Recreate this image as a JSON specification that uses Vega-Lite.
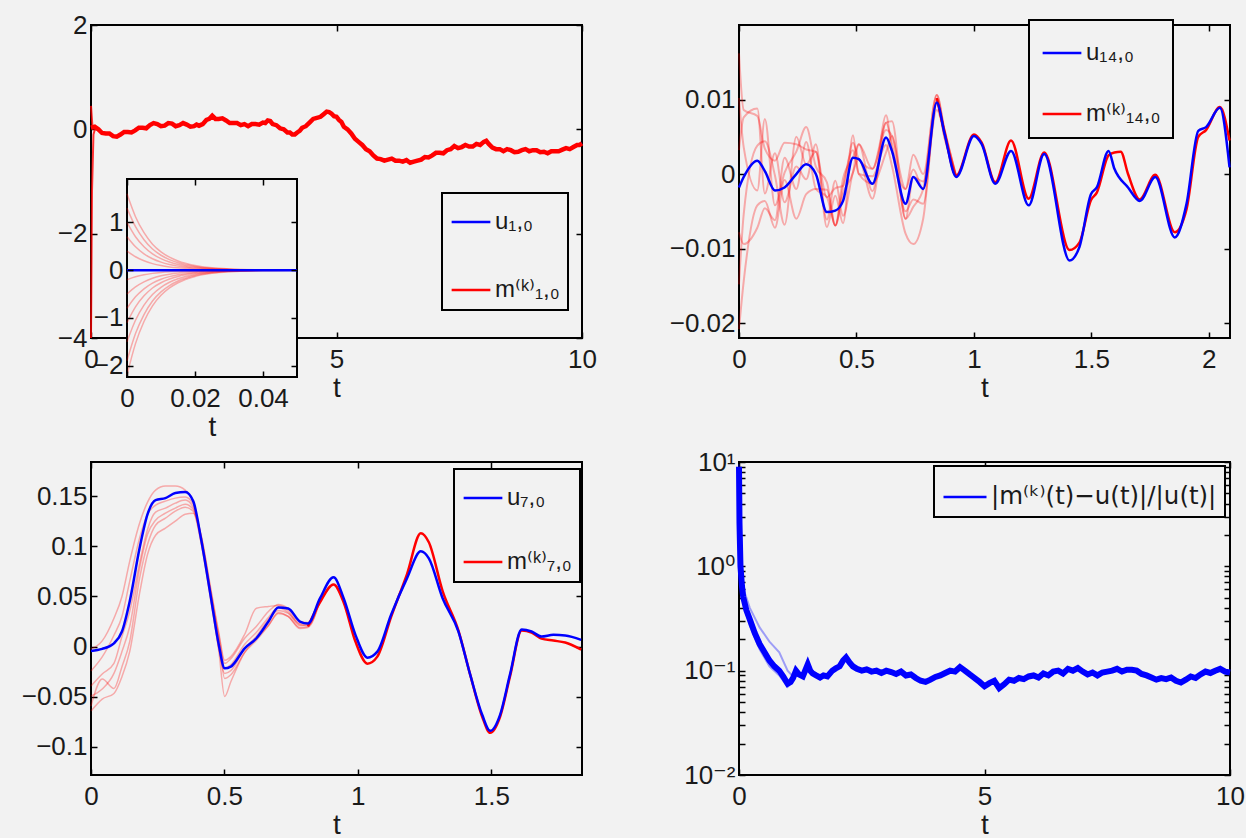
{
  "$schema": "https://vega.github.io/schema/vega-lite/v6.json",
  "background": "#f2f2f2",
  "padding": {"left": 20, "top": 11, "right": 0, "bottom": 0},
  "bounds": "flush",
  "columns": 2,
  "spacing": {"row": 124, "column": 157},
  "resolve": {"scale": {"color": "independent"}, "legend": {"color": "independent"}},
  "datasets": {
    "tl_m": [
      {"t":0,"v":0.03},{"t":0.075,"v":0.05},{"t":0.15,"v":0.0},{"t":0.225,"v":-0.07},{"t":0.3,"v":-0.08},{"t":0.375,"v":-0.08},{"t":0.45,"v":-0.13},{"t":0.525,"v":-0.14},{"t":0.6,"v":-0.1},{"t":0.675,"v":-0.05},{"t":0.75,"v":-0.05},{"t":0.825,"v":-0.06},{"t":0.9,"v":-0.02},{"t":0.975,"v":0.03},{"t":1.05,"v":0.03},{"t":1.125,"v":0.02},{"t":1.2,"v":0.08},{"t":1.275,"v":0.12},{"t":1.35,"v":0.1},{"t":1.425,"v":0.06},{"t":1.5,"v":0.07},{"t":1.575,"v":0.12},{"t":1.65,"v":0.11},{"t":1.725,"v":0.06},{"t":1.8,"v":0.08},{"t":1.875,"v":0.12},{"t":1.95,"v":0.09},{"t":2.025,"v":0.05},{"t":2.1,"v":0.06},{"t":2.15,"v":0.09},{"t":2.2,"v":0.07},{"t":2.275,"v":0.1},{"t":2.35,"v":0.18},{"t":2.41,"v":0.2},{"t":2.47,"v":0.26},{"t":2.535,"v":0.2},{"t":2.6,"v":0.2},{"t":2.675,"v":0.21},{"t":2.75,"v":0.17},{"t":2.825,"v":0.12},{"t":2.9,"v":0.12},{"t":2.975,"v":0.12},{"t":3.05,"v":0.08},{"t":3.125,"v":0.1},{"t":3.2,"v":0.06},{"t":3.275,"v":0.1},{"t":3.35,"v":0.1},{"t":3.425,"v":0.09},{"t":3.5,"v":0.13},{"t":3.55,"v":0.12},{"t":3.6,"v":0.17},{"t":3.65,"v":0.16},{"t":3.7,"v":0.1},{"t":3.775,"v":0.08},{"t":3.85,"v":0.02},{"t":3.925,"v":0.0},{"t":4.0,"v":-0.06},{"t":4.05,"v":-0.06},{"t":4.1,"v":-0.1},{"t":4.15,"v":-0.1},{"t":4.2,"v":-0.06},{"t":4.25,"v":-0.03},{"t":4.3,"v":0.03},{"t":4.375,"v":0.06},{"t":4.45,"v":0.13},{"t":4.525,"v":0.2},{"t":4.6,"v":0.22},{"t":4.675,"v":0.24},{"t":4.75,"v":0.3},{"t":4.8,"v":0.34},{"t":4.85,"v":0.33},{"t":4.9,"v":0.3},{"t":4.95,"v":0.25},{"t":5.0,"v":0.24},{"t":5.05,"v":0.18},{"t":5.1,"v":0.14},{"t":5.15,"v":0.05},{"t":5.225,"v":0.0},{"t":5.3,"v":-0.08},{"t":5.375,"v":-0.18},{"t":5.45,"v":-0.24},{"t":5.525,"v":-0.3},{"t":5.6,"v":-0.38},{"t":5.675,"v":-0.42},{"t":5.75,"v":-0.5},{"t":5.825,"v":-0.56},{"t":5.9,"v":-0.57},{"t":5.975,"v":-0.6},{"t":6.05,"v":-0.58},{"t":6.125,"v":-0.56},{"t":6.2,"v":-0.6},{"t":6.275,"v":-0.6},{"t":6.35,"v":-0.62},{"t":6.425,"v":-0.59},{"t":6.5,"v":-0.64},{"t":6.575,"v":-0.62},{"t":6.65,"v":-0.6},{"t":6.725,"v":-0.58},{"t":6.8,"v":-0.53},{"t":6.875,"v":-0.54},{"t":6.95,"v":-0.5},{"t":7.025,"v":-0.45},{"t":7.1,"v":-0.45},{"t":7.175,"v":-0.46},{"t":7.25,"v":-0.4},{"t":7.325,"v":-0.38},{"t":7.4,"v":-0.32},{"t":7.475,"v":-0.36},{"t":7.55,"v":-0.34},{"t":7.625,"v":-0.3},{"t":7.7,"v":-0.33},{"t":7.775,"v":-0.33},{"t":7.85,"v":-0.28},{"t":7.925,"v":-0.3},{"t":8.0,"v":-0.24},{"t":8.05,"v":-0.22},{"t":8.1,"v":-0.28},{"t":8.175,"v":-0.35},{"t":8.25,"v":-0.38},{"t":8.325,"v":-0.38},{"t":8.4,"v":-0.42},{"t":8.475,"v":-0.38},{"t":8.55,"v":-0.4},{"t":8.625,"v":-0.44},{"t":8.7,"v":-0.43},{"t":8.775,"v":-0.4},{"t":8.85,"v":-0.38},{"t":8.925,"v":-0.42},{"t":9.0,"v":-0.4},{"t":9.075,"v":-0.4},{"t":9.15,"v":-0.44},{"t":9.225,"v":-0.43},{"t":9.3,"v":-0.46},{"t":9.375,"v":-0.42},{"t":9.45,"v":-0.42},{"t":9.525,"v":-0.42},{"t":9.6,"v":-0.39},{"t":9.675,"v":-0.36},{"t":9.75,"v":-0.38},{"t":9.825,"v":-0.34},{"t":9.9,"v":-0.3},{"t":9.95,"v":-0.3},{"t":10.0,"v":-0.27}
    ],
    "tl_tr": [
      {"t":0,"v":0.45,"k":1},{"t":0.03,"v":0.05,"k":1},{"t":0.06,"v":0.02,"k":1},
      {"t":0,"v":-4,"k":2},{"t":0.02,"v":-1.2,"k":2},{"t":0.05,"v":-0.1,"k":2},{"t":0.08,"v":0.0,"k":2}
    ],
    "inset_box": [{"t":0,"t2":0.05,"v":-2.24,"v2":1.91}],
    "inset_u": [{"t":0,"v":0},{"t":0.05,"v":0}],
    "inset_m": [
      {"k":1,"t":0,"v":1.6},{"k":1,"t":0.0025,"v":1.12},{"k":1,"t":0.005,"v":0.784},{"k":1,"t":0.0075,"v":0.544},{"k":1,"t":0.01,"v":0.384},{"k":1,"t":0.0125,"v":0.272},{"k":1,"t":0.015,"v":0.192},{"k":1,"t":0.02,"v":0.096},{"k":1,"t":0.025,"v":0.048},{"k":1,"t":0.03,"v":0.024},{"k":1,"t":0.04,"v":0.006},{"k":1,"t":0.05,"v":0},
      {"k":2,"t":0,"v":1.3},{"k":2,"t":0.0025,"v":0.91},{"k":2,"t":0.005,"v":0.637},{"k":2,"t":0.0075,"v":0.442},{"k":2,"t":0.01,"v":0.312},{"k":2,"t":0.0125,"v":0.221},{"k":2,"t":0.015,"v":0.156},{"k":2,"t":0.02,"v":0.078},{"k":2,"t":0.025,"v":0.039},{"k":2,"t":0.03,"v":0.02},{"k":2,"t":0.04,"v":0.005},{"k":2,"t":0.05,"v":0},
      {"k":3,"t":0,"v":1.0},{"k":3,"t":0.0025,"v":0.7},{"k":3,"t":0.005,"v":0.49},{"k":3,"t":0.0075,"v":0.34},{"k":3,"t":0.01,"v":0.24},{"k":3,"t":0.0125,"v":0.17},{"k":3,"t":0.015,"v":0.12},{"k":3,"t":0.02,"v":0.06},{"k":3,"t":0.025,"v":0.03},{"k":3,"t":0.03,"v":0.015},{"k":3,"t":0.04,"v":0.004},{"k":3,"t":0.05,"v":0},
      {"k":4,"t":0,"v":0.7},{"k":4,"t":0.0025,"v":0.49},{"k":4,"t":0.005,"v":0.343},{"k":4,"t":0.0075,"v":0.238},{"k":4,"t":0.01,"v":0.168},{"k":4,"t":0.0125,"v":0.119},{"k":4,"t":0.015,"v":0.084},{"k":4,"t":0.02,"v":0.042},{"k":4,"t":0.025,"v":0.021},{"k":4,"t":0.03,"v":0.011},{"k":4,"t":0.04,"v":0.003},{"k":4,"t":0.05,"v":0},
      {"k":5,"t":0,"v":0.4},{"k":5,"t":0.0025,"v":0.28},{"k":5,"t":0.005,"v":0.196},{"k":5,"t":0.0075,"v":0.136},{"k":5,"t":0.01,"v":0.096},{"k":5,"t":0.0125,"v":0.068},{"k":5,"t":0.015,"v":0.048},{"k":5,"t":0.02,"v":0.024},{"k":5,"t":0.025,"v":0.012},{"k":5,"t":0.03,"v":0.006},{"k":5,"t":0.04,"v":0.002},{"k":5,"t":0.05,"v":0},
      {"k":6,"t":0,"v":-0.2},{"k":6,"t":0.0025,"v":-0.14},{"k":6,"t":0.005,"v":-0.098},{"k":6,"t":0.0075,"v":-0.068},{"k":6,"t":0.01,"v":-0.048},{"k":6,"t":0.0125,"v":-0.034},{"k":6,"t":0.015,"v":-0.024},{"k":6,"t":0.02,"v":-0.012},{"k":6,"t":0.025,"v":-0.006},{"k":6,"t":0.03,"v":-0.003},{"k":6,"t":0.04,"v":-0.001},{"k":6,"t":0.05,"v":0},
      {"k":7,"t":0,"v":-0.5},{"k":7,"t":0.0025,"v":-0.35},{"k":7,"t":0.005,"v":-0.245},{"k":7,"t":0.0075,"v":-0.17},{"k":7,"t":0.01,"v":-0.12},{"k":7,"t":0.0125,"v":-0.085},{"k":7,"t":0.015,"v":-0.06},{"k":7,"t":0.02,"v":-0.03},{"k":7,"t":0.025,"v":-0.015},{"k":7,"t":0.03,"v":-0.008},{"k":7,"t":0.04,"v":-0.002},{"k":7,"t":0.05,"v":0},
      {"k":8,"t":0,"v":-0.8},{"k":8,"t":0.0025,"v":-0.56},{"k":8,"t":0.005,"v":-0.392},{"k":8,"t":0.0075,"v":-0.272},{"k":8,"t":0.01,"v":-0.192},{"k":8,"t":0.0125,"v":-0.136},{"k":8,"t":0.015,"v":-0.096},{"k":8,"t":0.02,"v":-0.048},{"k":8,"t":0.025,"v":-0.024},{"k":8,"t":0.03,"v":-0.012},{"k":8,"t":0.04,"v":-0.003},{"k":8,"t":0.05,"v":0},
      {"k":9,"t":0,"v":-1.1},{"k":9,"t":0.0025,"v":-0.77},{"k":9,"t":0.005,"v":-0.539},{"k":9,"t":0.0075,"v":-0.374},{"k":9,"t":0.01,"v":-0.264},{"k":9,"t":0.0125,"v":-0.187},{"k":9,"t":0.015,"v":-0.132},{"k":9,"t":0.02,"v":-0.066},{"k":9,"t":0.025,"v":-0.033},{"k":9,"t":0.03,"v":-0.017},{"k":9,"t":0.04,"v":-0.004},{"k":9,"t":0.05,"v":0},
      {"k":10,"t":0,"v":-1.5},{"k":10,"t":0.0025,"v":-1.05},{"k":10,"t":0.005,"v":-0.735},{"k":10,"t":0.0075,"v":-0.51},{"k":10,"t":0.01,"v":-0.36},{"k":10,"t":0.0125,"v":-0.255},{"k":10,"t":0.015,"v":-0.18},{"k":10,"t":0.02,"v":-0.09},{"k":10,"t":0.025,"v":-0.045},{"k":10,"t":0.03,"v":-0.023},{"k":10,"t":0.04,"v":-0.006},{"k":10,"t":0.05,"v":0},
      {"k":11,"t":0,"v":-1.9},{"k":11,"t":0.0025,"v":-1.33},{"k":11,"t":0.005,"v":-0.931},{"k":11,"t":0.0075,"v":-0.646},{"k":11,"t":0.01,"v":-0.456},{"k":11,"t":0.0125,"v":-0.323},{"k":11,"t":0.015,"v":-0.228},{"k":11,"t":0.02,"v":-0.114},{"k":11,"t":0.025,"v":-0.057},{"k":11,"t":0.03,"v":-0.029},{"k":11,"t":0.04,"v":-0.008},{"k":11,"t":0.05,"v":0},
      {"k":12,"t":0,"v":-2.2},{"k":12,"t":0.0025,"v":-1.54},{"k":12,"t":0.005,"v":-1.078},{"k":12,"t":0.0075,"v":-0.748},{"k":12,"t":0.01,"v":-0.528},{"k":12,"t":0.0125,"v":-0.374},{"k":12,"t":0.015,"v":-0.264},{"k":12,"t":0.02,"v":-0.132},{"k":12,"t":0.025,"v":-0.066},{"k":12,"t":0.03,"v":-0.033},{"k":12,"t":0.04,"v":-0.009},{"k":12,"t":0.05,"v":0}
    ],
    "tr_u": [
      {"t":0,"v":-0.0018},{"t":0.02,"v":-0.0004},{"t":0.078,"v":0.0018},{"t":0.11,"v":0.0004},{"t":0.153,"v":-0.0022},{"t":0.194,"v":-0.0018},{"t":0.244,"v":0},{"t":0.286,"v":0.0013},{"t":0.327,"v":0},{"t":0.374,"v":-0.0051},{"t":0.41,"v":-0.0049},{"t":0.443,"v":-0.0036},{"t":0.485,"v":0.0022},{"t":0.51,"v":0.002},{"t":0.568,"v":-0.0013},{"t":0.626,"v":0.0049},{"t":0.651,"v":0.0031},{"t":0.709,"v":-0.004},{"t":0.742,"v":-0.0004},{"t":0.784,"v":-0.002},{"t":0.842,"v":0.0096},{"t":0.875,"v":0.0054},{"t":0.925,"v":-0.0004},{"t":1.0,"v":0.0051},{"t":1.033,"v":0.004},{"t":1.091,"v":-0.0013},{"t":1.158,"v":0.0031},{"t":1.233,"v":-0.0042},{"t":1.299,"v":0.0027},{"t":1.407,"v":-0.0116},{"t":1.449,"v":-0.0098},{"t":1.498,"v":-0.0027},{"t":1.523,"v":-0.0018},{"t":1.573,"v":0.0031},{"t":1.598,"v":0.0007},{"t":1.656,"v":-0.0018},{"t":1.706,"v":-0.0036},{"t":1.772,"v":-0.0004},{"t":1.855,"v":-0.0085},{"t":1.905,"v":-0.004},{"t":1.955,"v":0.0058},{"t":1.988,"v":0.0063},{"t":2.047,"v":0.0089},{"t":2.088,"v":0.0009}
    ],
    "tr_m": [
      {"t":0.842,"v":0.0102},{"t":0.875,"v":0.0056},{"t":0.925,"v":-0.0002},{"t":1.0,"v":0.0053},{"t":1.033,"v":0.0042},{"t":1.091,"v":-0.0011},{"t":1.158,"v":0.0045},{"t":1.233,"v":-0.0033},{"t":1.299,"v":0.0029},{"t":1.407,"v":-0.0102},{"t":1.449,"v":-0.0092},{"t":1.498,"v":-0.0035},{"t":1.523,"v":-0.0025},{"t":1.573,"v":0.0025},{"t":1.598,"v":0.0029},{"t":1.625,"v":0.003},{"t":1.656,"v":0.0},{"t":1.706,"v":-0.0034},{"t":1.772,"v":-0.0001},{"t":1.855,"v":-0.0078},{"t":1.905,"v":-0.0047},{"t":1.955,"v":0.005},{"t":1.988,"v":0.0059},{"t":2.047,"v":0.009},{"t":2.088,"v":0.0045}
    ],
    "tr_e": [
      {"k":1,"t":0,"v":0.0162},{"k":2,"t":0,"v":0.0102},{"k":3,"t":0,"v":0.0032},{"k":4,"t":0,"v":-0.0078},{"k":5,"t":0,"v":-0.0148},{"k":6,"t":0,"v":-0.0208},
      {"k":1,"t":0.02,"v":0.0086},{"k":2,"t":0.02,"v":0.0036},{"k":3,"t":0.02,"v":0.0076},{"k":4,"t":0.02,"v":-0.0094},{"k":5,"t":0.02,"v":-0.0054},{"k":6,"t":0.02,"v":-0.0144},
      {"k":1,"t":0.078,"v":0.0078},{"k":2,"t":0.078,"v":-0.0022},{"k":3,"t":0.078,"v":0.0088},{"k":4,"t":0.078,"v":-0.0072},{"k":5,"t":0.078,"v":0.0038},{"k":6,"t":0.078,"v":-0.0042},
      {"k":1,"t":0.11,"v":0.0034},{"k":2,"t":0.11,"v":0.0074},{"k":3,"t":0.11,"v":-0.0026},{"k":4,"t":0.11,"v":-0.0046},{"k":5,"t":0.11,"v":0.0044},{"k":6,"t":0.11,"v":-0.0036},
      {"k":1,"t":0.153,"v":0.0018},{"k":2,"t":0.153,"v":-0.0042},{"k":3,"t":0.153,"v":0.0028},{"k":4,"t":0.153,"v":-0.0062},{"k":5,"t":0.153,"v":-0.0002},{"k":6,"t":0.153,"v":-0.0072},
      {"k":1,"t":0.194,"v":0.0042},{"k":2,"t":0.194,"v":0.0002},{"k":3,"t":0.194,"v":-0.0038},{"k":4,"t":0.194,"v":0.0022},{"k":5,"t":0.194,"v":-0.0068},{"k":6,"t":0.194,"v":-0.0008},
      {"k":1,"t":0.244,"v":0.004},{"k":2,"t":0.244,"v":0.003},{"k":3,"t":0.244,"v":0.001},{"k":4,"t":0.244,"v":-0.002},{"k":5,"t":0.244,"v":0.005},{"k":6,"t":0.244,"v":-0.006},
      {"k":1,"t":0.286,"v":0.0033},{"k":2,"t":0.286,"v":0.0063},{"k":3,"t":0.286,"v":-0.0007},{"k":4,"t":0.286,"v":0.0043},{"k":5,"t":0.286,"v":0.0013},{"k":6,"t":0.286,"v":-0.0027},
      {"k":1,"t":0.327,"v":0.003},{"k":2,"t":0.327,"v":0.001},{"k":3,"t":0.327,"v":0.004},{"k":4,"t":0.327,"v":-0.002},{"k":5,"t":0.327,"v":0.003},{"k":6,"t":0.327,"v":-0.002},
      {"k":1,"t":0.374,"v":-0.0031},{"k":2,"t":0.374,"v":-0.0011},{"k":3,"t":0.374,"v":-0.0071},{"k":4,"t":0.374,"v":-0.0031},{"k":5,"t":0.374,"v":-0.0061},{"k":6,"t":0.374,"v":-0.0021},
      {"k":1,"t":0.41,"v":-0.0019},{"k":2,"t":0.41,"v":-0.0069},{"k":3,"t":0.41,"v":-0.0029},{"k":4,"t":0.41,"v":-0.0069},{"k":5,"t":0.41,"v":-0.0009},{"k":6,"t":0.41,"v":-0.0069},
      {"k":1,"t":0.443,"v":-0.0016},{"k":2,"t":0.443,"v":-0.0026},{"k":3,"t":0.443,"v":-0.0066},{"k":4,"t":0.443,"v":-0.0006},{"k":5,"t":0.443,"v":-0.0056},{"k":6,"t":0.443,"v":-0.0016},
      {"k":1,"t":0.485,"v":0.0042},{"k":2,"t":0.485,"v":0.0002},{"k":3,"t":0.485,"v":0.0052},{"k":4,"t":0.485,"v":0.0022},{"k":5,"t":0.485,"v":0.0002},{"k":6,"t":0.485,"v":0.0032},
      {"k":1,"t":0.51,"v":0.002},{"k":2,"t":0.51,"v":0.004},{"k":3,"t":0.51,"v":0.0},{"k":4,"t":0.51,"v":0.004},{"k":5,"t":0.51,"v":0.002},{"k":6,"t":0.51,"v":0.0},
      {"k":1,"t":0.568,"v":0.0007},{"k":2,"t":0.568,"v":-0.0023},{"k":3,"t":0.568,"v":-0.0003},{"k":4,"t":0.568,"v":0.0007},{"k":5,"t":0.568,"v":-0.0033},{"k":6,"t":0.568,"v":-0.0013},
      {"k":1,"t":0.626,"v":0.0069},{"k":2,"t":0.626,"v":0.0079},{"k":3,"t":0.626,"v":0.0039},{"k":4,"t":0.626,"v":0.0059},{"k":5,"t":0.626,"v":0.0069},{"k":6,"t":0.626,"v":0.0029},
      {"k":1,"t":0.651,"v":0.0071},{"k":2,"t":0.651,"v":0.0031},{"k":3,"t":0.651,"v":0.0011},{"k":4,"t":0.651,"v":0.0051},{"k":5,"t":0.651,"v":0.0041},{"k":6,"t":0.651,"v":0.0051},
      {"k":1,"t":0.709,"v":-0.006},{"k":2,"t":0.709,"v":-0.002},{"k":3,"t":0.709,"v":-0.008},{"k":4,"t":0.709,"v":-0.002},{"k":5,"t":0.709,"v":-0.005},{"k":6,"t":0.709,"v":-0.006},
      {"k":1,"t":0.742,"v":-0.0044},{"k":2,"t":0.742,"v":0.0026},{"k":3,"t":0.742,"v":-0.0094},{"k":4,"t":0.742,"v":0.0006},{"k":5,"t":0.742,"v":-0.0034},{"k":6,"t":0.742,"v":-0.0004},
      {"k":1,"t":0.784,"v":-0.002},{"k":2,"t":0.784,"v":0.0},{"k":3,"t":0.784,"v":-0.006},{"k":4,"t":0.784,"v":-0.002},{"k":5,"t":0.784,"v":-0.004},{"k":6,"t":0.784,"v":-0.001},
      {"k":1,"t":0.842,"v":0.0106},{"k":2,"t":0.842,"v":0.0106},{"k":3,"t":0.842,"v":0.0096},{"k":4,"t":0.842,"v":0.0086},{"k":5,"t":0.842,"v":0.0101},{"k":6,"t":0.842,"v":0.0096},
      {"k":1,"t":0.875,"v":0.0054},{"k":2,"t":0.875,"v":0.0059},{"k":3,"t":0.875,"v":0.0049},{"k":4,"t":0.875,"v":0.0054},{"k":5,"t":0.875,"v":0.0059},{"k":6,"t":0.875,"v":0.0049},
      {"k":1,"t":0.925,"v":-0.0004},{"k":2,"t":0.925,"v":-0.0004},{"k":3,"t":0.925,"v":-0.0004},{"k":4,"t":0.925,"v":-0.0004},{"k":5,"t":0.925,"v":-0.0004},{"k":6,"t":0.925,"v":-0.0004}
    ],
    "bl_u": [
      {"t":0,"v":-0.0043},{"t":0.042,"v":-0.0023},{"t":0.086,"v":0.0033},{"t":0.116,"v":0.015},{"t":0.145,"v":0.045},{"t":0.182,"v":0.098},{"t":0.212,"v":0.132},{"t":0.242,"v":0.146},{"t":0.279,"v":0.148},{"t":0.316,"v":0.153},{"t":0.353,"v":0.154},{"t":0.383,"v":0.145},{"t":0.412,"v":0.108},{"t":0.45,"v":0.048},{"t":0.479,"v":0.0017},{"t":0.501,"v":-0.0217},{"t":0.524,"v":-0.02},{"t":0.576,"v":-0.0017},{"t":0.62,"v":0.0083},{"t":0.665,"v":0.025},{"t":0.702,"v":0.039},{"t":0.739,"v":0.038},{"t":0.783,"v":0.025},{"t":0.813,"v":0.023},{"t":0.858,"v":0.048},{"t":0.909,"v":0.069},{"t":0.947,"v":0.048},{"t":0.991,"v":0.0117},{"t":1.036,"v":-0.011},{"t":1.073,"v":-0.005},{"t":1.125,"v":0.032},{"t":1.184,"v":0.068},{"t":1.236,"v":0.095},{"t":1.266,"v":0.088},{"t":1.318,"v":0.048},{"t":1.377,"v":0.015},{"t":1.421,"v":-0.028},{"t":1.466,"v":-0.068},{"t":1.496,"v":-0.084},{"t":1.533,"v":-0.068},{"t":1.57,"v":-0.028},{"t":1.614,"v":0.017},{"t":1.651,"v":0.015},{"t":1.688,"v":0.01},{"t":1.733,"v":0.0117},{"t":1.777,"v":0.011},{"t":1.837,"v":0.0067}
    ],
    "bl_m": [
      {"t":0.813,"v":0.02},{"t":0.858,"v":0.044},{"t":0.909,"v":0.062},{"t":0.947,"v":0.044},{"t":0.991,"v":0.005},{"t":1.036,"v":-0.017},{"t":1.073,"v":-0.01},{"t":1.125,"v":0.03},{"t":1.184,"v":0.072},{"t":1.236,"v":0.113},{"t":1.266,"v":0.104},{"t":1.318,"v":0.055},{"t":1.377,"v":0.016},{"t":1.421,"v":-0.028},{"t":1.466,"v":-0.07},{"t":1.496,"v":-0.086},{"t":1.533,"v":-0.07},{"t":1.57,"v":-0.03},{"t":1.614,"v":0.016},{"t":1.651,"v":0.014},{"t":1.688,"v":0.008},{"t":1.733,"v":0.006},{"t":1.777,"v":0.004},{"t":1.837,"v":-0.003}
    ],
    "bl_e": [
      {"k":1,"t":0,"v":-0.0023},{"k":2,"t":0,"v":-0.0243},{"k":3,"t":0,"v":-0.0393},{"k":4,"t":0,"v":-0.0493},{"k":5,"t":0,"v":-0.0593},{"k":6,"t":0,"v":-0.0643},
      {"k":1,"t":0.042,"v":0.0057},{"k":2,"t":0.042,"v":-0.0103},{"k":3,"t":0.042,"v":-0.0273},{"k":4,"t":0.042,"v":-0.0423},{"k":5,"t":0.042,"v":-0.0323},{"k":6,"t":0.042,"v":-0.0523},
      {"k":1,"t":0.086,"v":0.0283},{"k":2,"t":0.086,"v":0.0113},{"k":3,"t":0.086,"v":-0.0167},{"k":4,"t":0.086,"v":-0.0267},{"k":5,"t":0.086,"v":-0.0417},{"k":6,"t":0.086,"v":-0.0467},
      {"k":1,"t":0.116,"v":0.05},{"k":2,"t":0.116,"v":0.03},{"k":3,"t":0.116,"v":0.01},{"k":4,"t":0.116,"v":-0.005},{"k":5,"t":0.116,"v":-0.02},{"k":6,"t":0.116,"v":-0.03},
      {"k":1,"t":0.145,"v":0.085},{"k":2,"t":0.145,"v":0.065},{"k":3,"t":0.145,"v":0.035},{"k":4,"t":0.145,"v":0.02},{"k":5,"t":0.145,"v":0.005},{"k":6,"t":0.145,"v":-0.005},
      {"k":1,"t":0.182,"v":0.123},{"k":2,"t":0.182,"v":0.108},{"k":3,"t":0.182,"v":0.083},{"k":4,"t":0.182,"v":0.078},{"k":5,"t":0.182,"v":0.068},{"k":6,"t":0.182,"v":0.053},
      {"k":1,"t":0.212,"v":0.144},{"k":2,"t":0.212,"v":0.132},{"k":3,"t":0.212,"v":0.117},{"k":4,"t":0.212,"v":0.112},{"k":5,"t":0.212,"v":0.102},{"k":6,"t":0.212,"v":0.092},
      {"k":1,"t":0.242,"v":0.156},{"k":2,"t":0.242,"v":0.141},{"k":3,"t":0.242,"v":0.134},{"k":4,"t":0.242,"v":0.126},{"k":5,"t":0.242,"v":0.121},{"k":6,"t":0.242,"v":0.111},
      {"k":1,"t":0.279,"v":0.16},{"k":2,"t":0.279,"v":0.145},{"k":3,"t":0.279,"v":0.138},{"k":4,"t":0.279,"v":0.133},{"k":5,"t":0.279,"v":0.128},{"k":6,"t":0.279,"v":0.118},
      {"k":1,"t":0.316,"v":0.16},{"k":2,"t":0.316,"v":0.148},{"k":3,"t":0.316,"v":0.143},{"k":4,"t":0.316,"v":0.138},{"k":5,"t":0.316,"v":0.135},{"k":6,"t":0.316,"v":0.125},
      {"k":1,"t":0.353,"v":0.156},{"k":2,"t":0.353,"v":0.149},{"k":3,"t":0.353,"v":0.146},{"k":4,"t":0.353,"v":0.142},{"k":5,"t":0.353,"v":0.139},{"k":6,"t":0.353,"v":0.132},
      {"k":1,"t":0.383,"v":0.145},{"k":2,"t":0.383,"v":0.142},{"k":3,"t":0.383,"v":0.139},{"k":4,"t":0.383,"v":0.137},{"k":5,"t":0.383,"v":0.135},{"k":6,"t":0.383,"v":0.133},
      {"k":1,"t":0.412,"v":0.11},{"k":2,"t":0.412,"v":0.108},{"k":3,"t":0.412,"v":0.105},{"k":4,"t":0.412,"v":0.112},{"k":5,"t":0.412,"v":0.104},{"k":6,"t":0.412,"v":0.111},
      {"k":1,"t":0.45,"v":0.052},{"k":2,"t":0.45,"v":0.05},{"k":3,"t":0.45,"v":0.046},{"k":4,"t":0.45,"v":0.054},{"k":5,"t":0.45,"v":0.044},{"k":6,"t":0.45,"v":0.056},
      {"k":1,"t":0.479,"v":0.0077},{"k":2,"t":0.479,"v":0.0047},{"k":3,"t":0.479,"v":-0.0023},{"k":4,"t":0.479,"v":0.0117},{"k":5,"t":0.479,"v":-0.0043},{"k":6,"t":0.479,"v":0.0137},
      {"k":1,"t":0.501,"v":-0.0217},{"k":2,"t":0.501,"v":-0.0317},{"k":3,"t":0.501,"v":-0.0267},{"k":4,"t":0.501,"v":-0.0167},{"k":5,"t":0.501,"v":-0.0497},{"k":6,"t":0.501,"v":-0.0137},
      {"k":1,"t":0.524,"v":-0.018},{"k":2,"t":0.524,"v":-0.028},{"k":3,"t":0.524,"v":-0.024},{"k":4,"t":0.524,"v":-0.012},{"k":5,"t":0.524,"v":-0.035},{"k":6,"t":0.524,"v":-0.01},
      {"k":1,"t":0.576,"v":0.0023},{"k":2,"t":0.576,"v":-0.0057},{"k":3,"t":0.576,"v":-0.0017},{"k":4,"t":0.576,"v":0.0083},{"k":5,"t":0.576,"v":-0.0057},{"k":6,"t":0.576,"v":0.0123},
      {"k":1,"t":0.62,"v":0.0143},{"k":2,"t":0.62,"v":0.0063},{"k":3,"t":0.62,"v":0.0103},{"k":4,"t":0.62,"v":0.0203},{"k":5,"t":0.62,"v":0.0083},{"k":6,"t":0.62,"v":0.0383},
      {"k":1,"t":0.665,"v":0.029},{"k":2,"t":0.665,"v":0.021},{"k":3,"t":0.665,"v":0.027},{"k":4,"t":0.665,"v":0.035},{"k":5,"t":0.665,"v":0.021},{"k":6,"t":0.665,"v":0.04},
      {"k":1,"t":0.702,"v":0.039},{"k":2,"t":0.702,"v":0.034},{"k":3,"t":0.702,"v":0.036},{"k":4,"t":0.702,"v":0.042},{"k":5,"t":0.702,"v":0.033},{"k":6,"t":0.702,"v":0.041},
      {"k":1,"t":0.739,"v":0.034},{"k":2,"t":0.739,"v":0.03},{"k":3,"t":0.739,"v":0.033},{"k":4,"t":0.739,"v":0.038},{"k":5,"t":0.739,"v":0.03},{"k":6,"t":0.739,"v":0.036},
      {"k":1,"t":0.783,"v":0.022},{"k":2,"t":0.783,"v":0.019},{"k":3,"t":0.783,"v":0.021},{"k":4,"t":0.783,"v":0.025},{"k":5,"t":0.783,"v":0.018},{"k":6,"t":0.783,"v":0.023},
      {"k":1,"t":0.813,"v":0.021},{"k":2,"t":0.813,"v":0.02},{"k":3,"t":0.813,"v":0.022},{"k":4,"t":0.813,"v":0.024},{"k":5,"t":0.813,"v":0.019},{"k":6,"t":0.813,"v":0.023},
      {"k":1,"t":0.858,"v":0.048},{"k":2,"t":0.858,"v":0.046},{"k":3,"t":0.858,"v":0.048},{"k":4,"t":0.858,"v":0.049},{"k":5,"t":0.858,"v":0.046},{"k":6,"t":0.858,"v":0.048}
    ],
    "br_main": [
      {"t":0,"v":9},{"t":0.01,"v":2.6},{"t":0.03,"v":1.0},{"t":0.06,"v":0.65},{"t":0.085,"v":0.51},{"t":0.15,"v":0.38},{"t":0.22,"v":0.31},{"t":0.32,"v":0.23},{"t":0.42,"v":0.18},{"t":0.52,"v":0.15},{"t":0.62,"v":0.125},{"t":0.72,"v":0.11},{"t":0.82,"v":0.1},{"t":0.9,"v":0.088},{"t":0.99,"v":0.075},{"t":1.05,"v":0.078},{"t":1.1,"v":0.085},{"t":1.16,"v":0.1},{"t":1.22,"v":0.092},{"t":1.3,"v":0.088},{"t":1.4,"v":0.115},{"t":1.45,"v":0.1},{"t":1.5,"v":0.094},{"t":1.57,"v":0.09},{"t":1.65,"v":0.086},{"t":1.72,"v":0.09},{"t":1.8,"v":0.088},{"t":1.9,"v":0.1},{"t":1.97,"v":0.105},{"t":2.05,"v":0.11},{"t":2.12,"v":0.125},{"t":2.18,"v":0.134},{"t":2.25,"v":0.12},{"t":2.32,"v":0.11},{"t":2.4,"v":0.104},{"t":2.5,"v":0.1},{"t":2.6,"v":0.103},{"t":2.7,"v":0.098},{"t":2.8,"v":0.1},{"t":2.9,"v":0.095},{"t":3.0,"v":0.1},{"t":3.1,"v":0.097},{"t":3.2,"v":0.093},{"t":3.3,"v":0.098},{"t":3.4,"v":0.09},{"t":3.5,"v":0.092},{"t":3.6,"v":0.085},{"t":3.7,"v":0.08},{"t":3.8,"v":0.078},{"t":3.9,"v":0.082},{"t":4.0,"v":0.087},{"t":4.1,"v":0.09},{"t":4.2,"v":0.095},{"t":4.3,"v":0.1},{"t":4.4,"v":0.098},{"t":4.5,"v":0.108},{"t":4.6,"v":0.1},{"t":4.7,"v":0.092},{"t":4.8,"v":0.085},{"t":4.9,"v":0.078},{"t":5.0,"v":0.071},{"t":5.1,"v":0.076},{"t":5.2,"v":0.08},{"t":5.3,"v":0.068},{"t":5.4,"v":0.074},{"t":5.5,"v":0.082},{"t":5.6,"v":0.08},{"t":5.7,"v":0.085},{"t":5.8,"v":0.083},{"t":5.9,"v":0.088},{"t":6.0,"v":0.09},{"t":6.1,"v":0.086},{"t":6.2,"v":0.094},{"t":6.3,"v":0.09},{"t":6.4,"v":0.098},{"t":6.5,"v":0.1},{"t":6.6,"v":0.094},{"t":6.7,"v":0.104},{"t":6.8,"v":0.1},{"t":6.9,"v":0.106},{"t":7.0,"v":0.098},{"t":7.1,"v":0.092},{"t":7.2,"v":0.096},{"t":7.3,"v":0.09},{"t":7.4,"v":0.096},{"t":7.5,"v":0.098},{"t":7.6,"v":0.1},{"t":7.7,"v":0.104},{"t":7.8,"v":0.098},{"t":7.9,"v":0.102},{"t":8.0,"v":0.102},{"t":8.1,"v":0.1},{"t":8.2,"v":0.093},{"t":8.3,"v":0.09},{"t":8.4,"v":0.086},{"t":8.5,"v":0.082},{"t":8.6,"v":0.085},{"t":8.7,"v":0.083},{"t":8.8,"v":0.086},{"t":8.9,"v":0.08},{"t":9.0,"v":0.077},{"t":9.1,"v":0.082},{"t":9.2,"v":0.088},{"t":9.3,"v":0.085},{"t":9.4,"v":0.092},{"t":9.5,"v":0.098},{"t":9.6,"v":0.095},{"t":9.7,"v":0.1},{"t":9.8,"v":0.104},{"t":9.9,"v":0.098},{"t":10.0,"v":0.096}
    ],
    "br_fan": [
      {"k":1,"t":0,"v":9.5},{"k":1,"t":0.03,"v":1.3},{"k":1,"t":0.085,"v":0.62},{"k":1,"t":0.22,"v":0.4},{"k":1,"t":0.42,"v":0.26},{"k":1,"t":0.62,"v":0.19},{"k":1,"t":0.82,"v":0.15},{"k":1,"t":0.99,"v":0.1},{"k":1,"t":1.1,"v":0.088},
      {"k":2,"t":0,"v":8},{"k":2,"t":0.03,"v":0.9},{"k":2,"t":0.085,"v":0.45},{"k":2,"t":0.22,"v":0.27},{"k":2,"t":0.42,"v":0.16},{"k":2,"t":0.62,"v":0.11},{"k":2,"t":0.82,"v":0.09},{"k":2,"t":0.99,"v":0.07},{"k":2,"t":1.1,"v":0.08}
    ]
  },
  "concat": [
    {
      "width": 491, "height": 313,
      "layer": [
        {
          "layer": [
            {
              "encoding": {
                "x": {"field": "t", "type": "quantitative", "title": "t", "scale": {"domain": [0, 10], "nice": false, "zero": false}, "axis": {"values": [0, 5, 10]}},
                "y": {"field": "v", "type": "quantitative", "title": null, "scale": {"domain": [-4, 2], "nice": false, "zero": false}, "axis": {"values": [-4, -2, 0, 2]}}
              },
              "layer": [
                {"data": {"name": "tl_m"}, "mark": {"type": "line", "strokeWidth": 2},
                 "encoding": {"color": {"datum": "u₁,₀", "scale": {"domain": ["u₁,₀", "m⁽ᵏ⁾₁,₀"], "range": ["#0000ff", "#ff0000"]}, "legend": {"title": null, "legendX": 351, "legendY": 168}}}},
                {"data": {"name": "tl_tr"}, "mark": {"type": "line", "strokeWidth": 2, "opacity": 0.8},
                 "encoding": {"detail": {"field": "k"}, "color": {"datum": "m⁽ᵏ⁾₁,₀"}}}
              ]
            },
            {"data": {"name": "tl_m"}, "mark": {"type": "line", "strokeWidth": 4.5},
             "encoding": {
               "x": {"field": "t", "type": "quantitative", "title": null, "scale": {"domain": [0, 10], "nice": false, "zero": false}, "axis": {"orient": "top", "labels": false, "values": [0, 5, 10]}},
               "y": {"field": "v", "type": "quantitative", "title": null, "scale": {"domain": [-4, 2], "nice": false, "zero": false}, "axis": {"orient": "right", "labels": false, "values": [-4, -2, 0, 2]}},
               "color": {"datum": "m⁽ᵏ⁾₁,₀"}}}
          ],
          "resolve": {"axis": {"x": "independent", "y": "independent"}}
        },
        {
          "layer": [
            {
              "encoding": {
                "x": {"field": "t", "type": "quantitative", "title": "t", "scale": {"domain": [0, 0.05], "range": [36, 206], "nice": false, "zero": false}, "axis": {"orient": "bottom", "offset": 39, "values": [0, 0.02, 0.04], "format": "~g", "zindex": 1}},
                "y": {"field": "v", "type": "quantitative", "title": null, "scale": {"domain": [-2.24, 1.91], "range": [352, 154], "nice": false, "zero": false}, "axis": {"orient": "left", "offset": -36, "values": [-2, -1, 0, 1], "zindex": 1}}
              },
              "layer": [
                {"data": {"name": "inset_box"}, "mark": {"type": "rect", "fill": "#f2f2f2", "stroke": "#000", "strokeWidth": 2},
                 "encoding": {"x2": {"field": "t2"}, "y2": {"field": "v2"}}},
                {"data": {"name": "inset_m"}, "mark": {"type": "line", "strokeWidth": 1.5, "opacity": 0.3, "interpolate": "monotone", "color": "#ff0000"},
                 "encoding": {"detail": {"field": "k"}}}
              ]
            },
            {"data": {"name": "inset_u"}, "mark": {"type": "line", "strokeWidth": 2.5, "color": "#0000ff"},
             "encoding": {
               "x": {"field": "t", "type": "quantitative", "title": null, "scale": {"domain": [0, 0.05], "range": [36, 206], "nice": false, "zero": false}, "axis": {"orient": "top", "offset": -154, "labels": false, "values": [0, 0.02, 0.04], "zindex": 1}},
               "y": {"field": "v", "type": "quantitative", "title": null, "scale": {"domain": [-2.24, 1.91], "range": [352, 154], "nice": false, "zero": false}, "axis": {"orient": "right", "offset": -285, "labels": false, "values": [-2, -1, 0, 1], "zindex": 1}}}}
          ],
          "resolve": {"axis": {"x": "independent", "y": "independent"}}
        }
      ],
      "resolve": {"scale": {"x": "independent", "y": "independent"}, "axis": {"x": "independent", "y": "independent"}}
    },
    {
      "width": 491, "height": 313,
      "layer": [
        {
          "encoding": {
            "x": {"field": "t", "type": "quantitative", "title": "t", "scale": {"domain": [0, 2.09], "nice": false, "zero": false}, "axis": {"values": [0, 0.5, 1, 1.5, 2], "format": "~g"}},
            "y": {"field": "v", "type": "quantitative", "title": null, "scale": {"domain": [-0.022, 0.02], "nice": false, "zero": false}, "axis": {"values": [-0.02, -0.01, 0, 0.01], "format": "~g"}}
          },
          "layer": [
            {"data": {"name": "tr_e"}, "mark": {"type": "line", "strokeWidth": 2, "opacity": 0.3, "interpolate": "monotone"},
             "encoding": {"detail": {"field": "k"}, "color": {"datum": "m⁽ᵏ⁾₁₄,₀", "scale": {"domain": ["u₁₄,₀", "m⁽ᵏ⁾₁₄,₀"], "range": ["#0000ff", "#ff0000"]}, "legend": {"title": null, "legendX": 290, "legendY": -5, "padding": 12, "rowPadding": 28}}}},
            {"data": {"name": "tr_m"}, "mark": {"type": "line", "strokeWidth": 2.5, "interpolate": "monotone"},
             "encoding": {"color": {"datum": "m⁽ᵏ⁾₁₄,₀"}}}
          ]
        },
        {"data": {"name": "tr_u"}, "mark": {"type": "line", "strokeWidth": 2.5, "interpolate": "monotone"},
         "encoding": {
           "x": {"field": "t", "type": "quantitative", "title": null, "scale": {"domain": [0, 2.09], "nice": false, "zero": false}, "axis": {"orient": "top", "labels": false, "values": [0, 0.5, 1, 1.5, 2]}},
           "y": {"field": "v", "type": "quantitative", "title": null, "scale": {"domain": [-0.022, 0.02], "nice": false, "zero": false}, "axis": {"orient": "right", "labels": false, "values": [-0.02, -0.01, 0, 0.01]}},
           "color": {"datum": "u₁₄,₀"}}}
      ],
      "resolve": {"axis": {"x": "independent", "y": "independent"}}
    },
    {
      "width": 491, "height": 313,
      "layer": [
        {
          "encoding": {
            "x": {"field": "t", "type": "quantitative", "title": "t", "scale": {"domain": [0, 1.84], "nice": false, "zero": false}, "axis": {"values": [0, 0.5, 1, 1.5], "format": "~g"}},
            "y": {"field": "v", "type": "quantitative", "title": null, "scale": {"domain": [-0.128, 0.184], "nice": false, "zero": false}, "axis": {"values": [-0.1, -0.05, 0, 0.05, 0.1, 0.15], "format": "~g"}}
          },
          "layer": [
            {"data": {"name": "bl_e"}, "mark": {"type": "line", "strokeWidth": 1.5, "opacity": 0.3, "interpolate": "monotone"},
             "encoding": {"detail": {"field": "k"}, "color": {"datum": "m⁽ᵏ⁾₇,₀", "scale": {"domain": ["u₇,₀", "m⁽ᵏ⁾₇,₀"], "range": ["#0000ff", "#ff0000"]}, "legend": {"title": null, "legendX": 363, "legendY": 7, "rowPadding": 31}}}},
            {"data": {"name": "bl_m"}, "mark": {"type": "line", "strokeWidth": 2.5, "interpolate": "monotone"},
             "encoding": {"color": {"datum": "m⁽ᵏ⁾₇,₀"}}}
          ]
        },
        {"data": {"name": "bl_u"}, "mark": {"type": "line", "strokeWidth": 2.5, "interpolate": "monotone"},
         "encoding": {
           "x": {"field": "t", "type": "quantitative", "title": null, "scale": {"domain": [0, 1.84], "nice": false, "zero": false}, "axis": {"orient": "top", "labels": false, "values": [0, 0.5, 1, 1.5]}},
           "y": {"field": "v", "type": "quantitative", "title": null, "scale": {"domain": [-0.128, 0.184], "nice": false, "zero": false}, "axis": {"orient": "right", "labels": false, "values": [-0.1, -0.05, 0, 0.05, 0.1, 0.15]}},
           "color": {"datum": "u₇,₀"}}}
      ],
      "resolve": {"axis": {"x": "independent", "y": "independent"}}
    },
    {
      "width": 491, "height": 313,
      "layer": [
        {
          "encoding": {
            "x": {"field": "t", "type": "quantitative", "title": "t", "scale": {"domain": [0, 10], "nice": false, "zero": false}, "axis": {"values": [0, 5, 10]}},
            "y": {"field": "v", "type": "quantitative", "title": null, "scale": {"type": "log", "domain": [0.01, 10], "nice": false}, "axis": {"values": [0.01, 0.02, 0.03, 0.04, 0.05, 0.06, 0.07, 0.08, 0.09, 0.1, 0.2, 0.3, 0.4, 0.5, 0.6, 0.7, 0.8, 0.9, 1, 2, 3, 4, 5, 6, 7, 8, 9, 10], "labelExpr": "datum.value === 10 ? '10¹' : datum.value === 1 ? '10⁰' : datum.value === 0.1 ? '10⁻¹' : datum.value === 0.01 ? '10⁻²' : ''"}}
          },
          "layer": [
            {"data": {"name": "br_fan"}, "mark": {"type": "line", "strokeWidth": 2, "opacity": 0.35},
             "encoding": {"detail": {"field": "k"}, "color": {"datum": "|m⁽ᵏ⁾(t)−u(t)|/|u(t)|", "scale": {"domain": ["|m⁽ᵏ⁾(t)−u(t)|/|u(t)|"], "range": ["#0000ff"]}, "legend": {"title": null, "legendX": 195, "legendY": 4, "symbolSize": 1850, "padding": 8, "labelFont": "DejaVu Sans", "labelFontSize": 24.5}}}}
          ]
        },
        {"data": {"name": "br_main"}, "mark": {"type": "line", "strokeWidth": 6},
         "encoding": {
           "x": {"field": "t", "type": "quantitative", "title": null, "scale": {"domain": [0, 10], "nice": false, "zero": false}, "axis": {"orient": "top", "labels": false, "values": [0, 5, 10]}},
           "y": {"field": "v", "type": "quantitative", "title": null, "scale": {"type": "log", "domain": [0.01, 10], "nice": false}, "axis": {"orient": "right", "labels": false, "values": [0.01, 0.02, 0.03, 0.04, 0.05, 0.06, 0.07, 0.08, 0.09, 0.1, 0.2, 0.3, 0.4, 0.5, 0.6, 0.7, 0.8, 0.9, 1, 2, 3, 4, 5, 6, 7, 8, 9, 10]}},
           "color": {"datum": "|m⁽ᵏ⁾(t)−u(t)|/|u(t)|"}}}
      ],
      "resolve": {"axis": {"x": "independent", "y": "independent"}}
    }
  ],
  "config": {
    "font": "Liberation Sans",
    "view": {"stroke": "#000", "strokeWidth": 2},
    "axis": {"domain": false, "grid": false, "ticks": true, "tickColor": "#000", "tickWidth": 1.5, "tickSize": -6,
             "labelFont": "Liberation Sans, DejaVu Sans", "labelFontSize": 26, "labelColor": "#1a1a1a", "labelFlush": false, "labelOverlap": false, "labelBound": false,
             "titleFont": "Liberation Sans", "titleFontSize": 28, "titleFontWeight": "normal", "titleColor": "#1a1a1a", "titlePadding": 2},
    "axisX": {"labelPadding": 14},
    "axisY": {"labelPadding": 10},
    "legend": {"orient": "none", "symbolType": "stroke", "symbolSize": 1500, "symbolStrokeWidth": 2.5, "symbolOpacity": 1,
               "labelFont": "Liberation Sans, DejaVu Sans", "labelFontSize": 24, "labelColor": "#1a1a1a", "labelOffset": 3, "labelLimit": 500,
               "strokeColor": "#000", "strokeWidth": 2, "fillColor": "#f2f2f2", "padding": 8, "rowPadding": 35}
  }
}
